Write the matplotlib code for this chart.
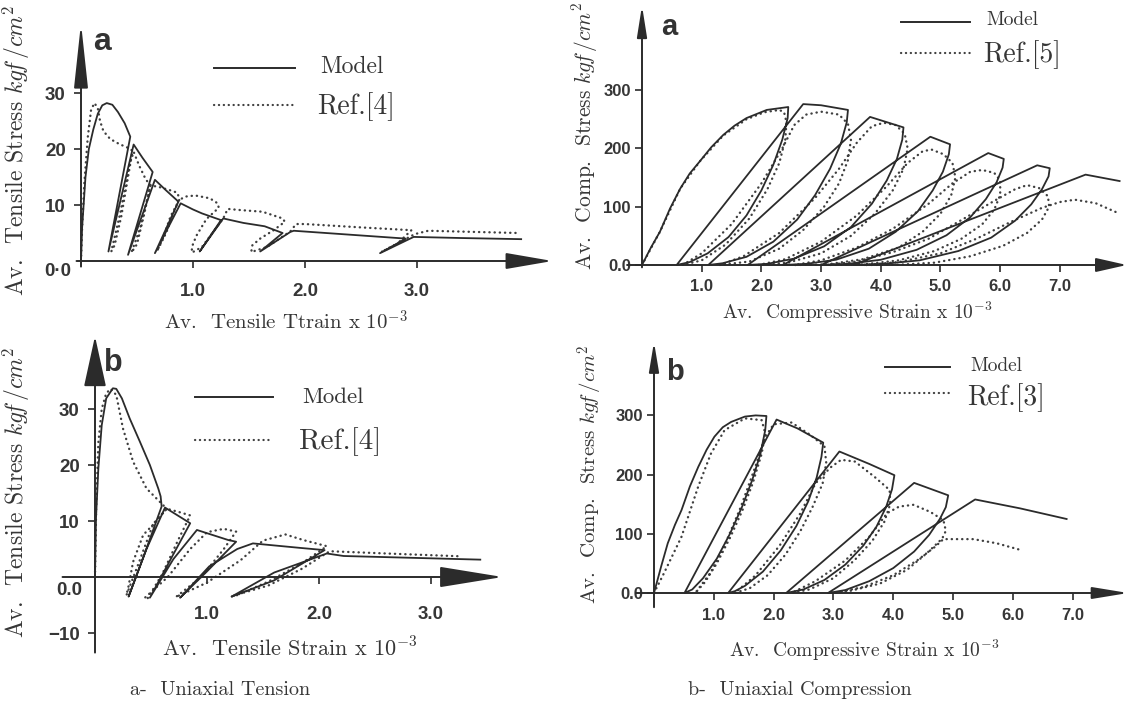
import numpy as np
import matplotlib
matplotlib.use("Agg")
import matplotlib.pyplot as plt
from matplotlib.lines import Line2D

# ---------------- data ----------------
# Uniaxial tension (a): strain x1e-3, stress kgf/cm2
ta_model_x = [0, 0.01, 0.04, 0.07, 0.11, 0.15, 0.19, 0.23, 0.28, 0.33, 0.39, 0.44, 0.245, 0.47, 0.55, 0.64,
              0.42, 0.66, 0.76, 0.87, 0.66, 0.89, 1.00, 1.08, 1.25, 1.06, 1.27, 1.45, 1.64, 1.80, 1.60, 1.87,
              1.90, 2.40, 2.90, 2.67, 2.97, 3.40, 3.93]
ta_model_y = [0, 6, 15, 20, 23.5, 26.3, 27.8, 28.2, 27.9, 26.6, 24.6, 22.2, 1.7, 20.8, 18.4, 15.9,
              1.1, 14.5, 12.6, 10.6, 1.4, 10.3, 9.2, 8.5, 7.3, 1.7, 7.6, 6.8, 6.2, 5.0, 1.7, 5.2,
              5.4, 4.7, 4.0, 1.4, 4.3, 4.1, 3.9]
ta_ref_x = [0, 0.01, 0.03, 0.06, 0.09, 0.12, 0.15, 0.17, 0.20, 0.26, 0.34, 0.41, 0.46,
            0.42, 0.36, 0.30, 0.27, 0.35, 0.43, 0.47,
            0.52, 0.58, 0.62, 0.56, 0.50, 0.45, 0.53, 0.62,
            0.70, 0.80, 0.86, 0.88, 0.80, 0.73, 0.68, 0.76, 0.87,
            0.93, 1.02, 1.15, 1.22, 1.23, 1.12, 1.03, 0.99, 0.99, 1.08, 1.27,
            1.31, 1.42, 1.62, 1.80, 1.82, 1.72, 1.60, 1.53, 1.52, 1.66, 1.87,
            1.92, 2.00, 2.50, 2.95, 2.82, 2.68, 2.98, 3.10, 3.50, 3.90]
ta_ref_y = [0, 6, 14, 22, 27, 28.2, 27.3, 25, 23.2, 21.8, 20.9, 20.3, 19.7,
            15, 8, 2.8, 1.7, 8.5, 17, 19.5,
            17, 14.5, 13.6, 8, 3, 1.5, 6, 13.5,
            13.2, 12.6, 12.2, 11, 8, 4, 1.8, 5, 10.8,
            11.5, 11.7, 11.2, 10.3, 9.5, 7.5, 4.5, 2.5, 1.5, 2.5, 7.6,
            9.3, 9.1, 8.8, 7.6, 7.0, 5.5, 4, 2.8, 1.6, 2.5, 5.3,
            6.6, 6.6, 6.0, 5.5, 3.0, 1.6, 4.8, 5.4, 5.2, 5.0]

# Uniaxial tension (b)
tb_model_x = [0, 0.009, 0.03, 0.06, 0.10, 0.16, 0.19, 0.24, 0.31, 0.40, 0.49, 0.565, 0.586, 0.595,
              0.44, 0.30, 0.46, 0.625, 0.85, 0.66, 0.49, 0.70, 0.91, 1.19, 1.26, 1.00, 0.76, 1.02, 1.27,
              1.41, 1.83, 2.05, 1.60, 1.22, 1.60, 2.07, 2.22, 3.44]
tb_model_y = [0, 10.5, 19.4, 27.1, 31.9, 33.7, 33.6, 31.9, 28.3, 24.2, 20, 15.8, 14.4, 12.6,
              4.0, -3.5, 5.0, 12.4, 9.6, 2.6, -3.7, 3.2, 8.4, 6.6, 6.3, 1.0, -3.7, 1.9, 5.0,
              6.0, 5.2, 4.8, -0.6, -3.5, 0.8, 4.2, 3.75, 3.1]
tb_ref_x = [0, 0.01, 0.03, 0.06, 0.10, 0.14, 0.19, 0.25, 0.34, 0.46, 0.58, 0.64,
            0.55, 0.43, 0.34, 0.30, 0.28, 0.40, 0.52, 0.64,
            0.75, 0.85, 0.74, 0.60, 0.47, 0.44, 0.65, 0.85, 1.00, 1.15, 1.26,
            1.15, 0.95, 0.72, 1.00, 1.30, 1.50, 1.70, 1.86, 2.07,
            1.85, 1.55, 1.25, 1.21, 1.55, 1.85, 2.07, 2.10, 2.60, 3.26]
tb_ref_y = [0, 12, 24, 30, 32.8, 33.6, 32.5, 26.5, 20.6, 15.8, 13.4, 12.2,
            10.0, 7.5, 2.7, -1.6, -3.3, 3.0, 9.5, 12.2,
            11.6, 11.0, 6.5, 0.5, -3.8, -3.8, 0.0, 5.0, 8.0, 8.6, 8.1,
            5.0, 0.0, -3.6, -1.0, 3.0, 6.5, 7.6, 6.6, 5.5,
            2.5, -0.8, -3.4, -3.5, -1.5, 1.5, 4.3, 4.6, 4.2, 3.7]

# Uniaxial compression (a)
ca_model_x = [0, 0.15, 0.30, 0.47, 0.64, 0.80, 0.97, 1.16, 1.36, 1.55, 1.75, 2.09, 2.45,
              2.44, 2.35, 2.2, 2.0, 1.75, 1.45, 1.1, 0.8, 0.58,
              2.70, 3.0, 3.45,
              3.43, 3.33, 3.15, 2.9, 2.6, 2.2, 1.75, 1.35, 1.11,
              3.82, 4.38,
              4.36, 4.27, 4.1, 3.85, 3.5, 3.05, 2.55, 2.1, 1.77,
              4.83, 5.16,
              5.14, 5.04, 4.87, 4.62, 4.25, 3.8, 3.25, 2.75, 2.36,
              5.8, 6.06,
              6.04, 5.94, 5.76, 5.5, 5.1, 4.6, 4.0, 3.45, 3.0,
              6.62, 6.83,
              6.81, 6.7, 6.52, 6.25, 5.85, 5.3, 4.65, 4.05, 3.54,
              7.43, 8.0]
ca_model_y = [0, 30, 57, 97, 131, 157, 178, 202, 223, 239, 252, 266, 271,
              252, 215, 172, 128, 85, 48, 20, 5, 0,
              276, 274, 266,
              245, 208, 165, 120, 78, 40, 14, 3, 0,
              254, 236,
              215, 182, 145, 105, 65, 32, 11, 2, 0,
              220, 207,
              190, 160, 128, 92, 57, 28, 9, 2, 0,
              192, 182,
              167, 142, 113, 82, 51, 26, 9, 2, 0,
              171, 166,
              152, 130, 104, 76, 47, 24, 8, 2, 0,
              155, 144]
ca_ref_x = [0, 0.3, 0.64, 0.97, 1.36, 1.75, 2.05, 2.3,
            2.38, 2.42, 2.4, 2.3, 2.1, 1.8, 1.4, 1.0, 0.68,
            1.0, 1.5, 2.0, 2.35, 2.55, 2.75, 3.0, 3.3,
            3.45, 3.5, 3.45, 3.3, 3.05, 2.7, 2.3, 1.8, 1.3,
            1.7, 2.3, 2.9, 3.3, 3.6, 3.85, 4.05, 4.25,
            4.4, 4.45, 4.38, 4.2, 3.9, 3.5, 3.0, 2.45, 1.95,
            2.4, 3.0, 3.6, 4.1, 4.45, 4.7, 4.85, 5.05,
            5.2, 5.25, 5.18, 5.0, 4.7, 4.3, 3.7, 3.1, 2.55,
            3.0, 3.6, 4.2, 4.8, 5.2, 5.5, 5.7, 5.9,
            6.0, 6.0, 5.9, 5.7, 5.35, 4.9, 4.3, 3.7, 3.1,
            3.6, 4.2, 4.8, 5.4, 5.9, 6.25, 6.45, 6.65,
            6.8, 6.82, 6.7, 6.45, 6.05, 5.5, 4.9, 4.3, 3.7,
            4.3, 5.0, 5.6, 6.2, 6.7, 7.0, 7.25, 7.6, 8.0]
ca_ref_y = [0, 57, 131, 178, 222, 250, 262, 266,
            262, 245, 215, 175, 130, 80, 35, 8, 0,
            20, 70, 140, 200, 240, 258, 263, 258,
            242, 215, 180, 140, 100, 60, 28, 6, 0,
            15, 55, 115, 165, 210, 238, 244, 240,
            225, 200, 165, 128, 88, 50, 20, 4, 0,
            10, 40, 85, 135, 175, 195, 198, 190,
            175, 150, 120, 88, 57, 30, 10, 1, 0,
            8, 30, 62, 105, 140, 160, 163, 158,
            145, 120, 95, 70, 45, 24, 8, 1, 0,
            6, 22, 45, 80, 110, 130, 137, 132,
            118, 100, 78, 55, 33, 15, 4, 0.5, 0,
            5, 20, 45, 75, 98, 108, 112, 106, 88]

# Uniaxial compression (b)
cb_model_x = [0, 0.12, 0.23, 0.35, 0.46, 0.6, 0.74, 0.88, 1.01, 1.15, 1.29, 1.52, 1.70, 1.88,
              1.86, 1.78, 1.64, 1.47, 1.27, 1.05, 0.82, 0.64, 0.51,
              2.05, 2.4, 2.83,
              2.80, 2.72, 2.58, 2.38, 2.12, 1.82, 1.52, 1.35, 1.24,
              3.1, 3.6, 4.02,
              3.98, 3.88, 3.72, 3.5, 3.2, 2.85, 2.5, 2.21,
              4.35, 4.92,
              4.88, 4.78, 4.6, 4.35, 4.0, 3.6, 3.2, 2.91,
              5.37, 6.12, 6.9]
cb_model_y = [0, 45, 84, 115, 140, 180, 213, 242, 264, 280, 289, 298, 300, 299,
              275, 235, 190, 145, 100, 58, 25, 6, 0,
              293, 278, 254,
              230, 195, 155, 113, 72, 36, 12, 3, 0,
              239, 218, 199,
              175, 145, 112, 80, 48, 22, 6, 0,
              186, 165,
              145, 125, 98, 70, 42, 20, 5, 0,
              158, 143, 125]
cb_ref_x = [0, 0.15, 0.46, 0.74, 0.95, 1.18, 1.52, 1.8,
            1.86, 1.8, 1.65, 1.48, 1.28, 1.05, 0.85, 0.69,
            0.95, 1.2, 1.45, 1.7, 1.85, 2.0, 2.3, 2.6, 2.85,
            2.88, 2.82, 2.65, 2.45, 2.2, 1.9, 1.6, 1.35,
            1.7, 2.1, 2.45, 2.7, 2.95, 3.13, 3.36, 3.69, 3.94,
            3.95, 3.85, 3.65, 3.35, 3.0, 2.6, 2.3,
            2.7, 3.2, 3.6, 3.9, 4.1, 4.34, 4.62, 4.84, 4.88,
            4.82, 4.56, 4.23, 3.78, 3.3, 3.0,
            3.5, 4.0, 4.4, 4.7, 4.84, 5.34, 5.73, 6.12]
cb_ref_y = [0, 30, 95, 180, 235, 275, 295, 292,
            270, 235, 185, 140, 95, 50, 18, 0,
            35, 85, 145, 215, 262, 285, 288, 268, 248,
            220, 185, 145, 105, 65, 30, 8, 0,
            30, 80, 135, 185, 212, 225, 222, 196, 174,
            150, 120, 88, 55, 25, 6, 0,
            20, 55, 95, 135, 146, 149, 137, 123, 105,
            92, 67, 39, 16, 4, 0,
            10, 30, 55, 78, 91, 91, 84, 73]

# ---------------- styling / layout ----------------
W, H = 1129, 720
INK = "#2b2b2b"
TXT = "#363636"
SERIF = "cmr10"
TICKF = ["Liberation Sans", "DejaVu Sans"]
BOLDSANS = ["Liberation Sans", "DejaVu Sans"]
plt.rcParams["mathtext.fontset"] = "cm"
plt.rcParams["axes.unicode_minus"] = False

fig = plt.figure(figsize=(W / 100, H / 100), dpi=100)
fig.patch.set_facecolor("white")


def px_axes(ox, oy, sx, sy, xlim, ylim):
    left = ox + xlim[0] * sx
    right = ox + xlim[1] * sx
    top = oy - ylim[1] * sy
    bottom = oy - ylim[0] * sy
    ax = fig.add_axes([left / W, 1 - bottom / H, (right - left) / W, (bottom - top) / H])
    ax.set_xlim(xlim)
    ax.set_ylim(ylim)
    ax.patch.set_alpha(0)
    return ax


def axis_style(ax, xticks, xlabels, yticks, ylabels, xa, ya, xhead, yhead, tfs, xpad, ypad):
    for s in ax.spines.values():
        s.set_visible(False)
    ax.spines["left"].set_position(("data", 0))
    ax.spines["bottom"].set_position(("data", 0))
    ax.set_xticks(xticks, xlabels, fontfamily=TICKF, fontsize=tfs, fontweight="bold", color=TXT)
    ax.set_yticks(yticks, ylabels, fontfamily=TICKF, fontsize=tfs, fontweight="bold", color=TXT)
    ax.tick_params(axis="x", direction="out", length=5, width=1.2, color=INK, pad=xpad)
    ax.tick_params(axis="y", direction="out", length=5, width=1.2, color=INK, pad=ypad)
    ax.annotate("", xy=(xa[1], 0), xytext=(xa[0], 0),
                arrowprops=dict(arrowstyle="-|>,head_length=%g,head_width=%g" % xhead,
                                lw=1.4, color=INK, shrinkA=0, shrinkB=0, mutation_scale=1))
    ax.annotate("", xy=(0, ya[1]), xytext=(0, ya[0]),
                arrowprops=dict(arrowstyle="-|>,head_length=%g,head_width=%g" % yhead,
                                lw=1.4, color=INK, shrinkA=0, shrinkB=0, mutation_scale=1))


def curves(ax, mx, my, rx, ry):
    ax.plot(rx, ry, color="#3f3f3f", lw=1.7, ls=(0, (0.1, 2.1)), dash_capstyle="round",
            solid_joinstyle="round", clip_on=False)
    ax.plot(mx, my, color=INK, lw=1.3, solid_joinstyle="round", clip_on=False)


def ftext(x, y, s, **kw):
    kw.setdefault("color", TXT)
    kw.setdefault("ha", "center")
    kw.setdefault("va", "center")
    fig.text(x / W, 1 - y / H, s, **kw)


def legend(x0, x1, ys, yd, xt, ymt, yrt, label_ref, fsm, fsr):
    fig.add_artist(Line2D([x0 / W, x1 / W], [1 - ys / H, 1 - ys / H], color=INK, lw=1.4,
                          transform=fig.transFigure))
    fig.add_artist(Line2D([x0 / W, x1 / W], [1 - yd / H, 1 - yd / H], color="#3f3f3f", lw=1.6,
                          ls=(0, (0.1, 2.1)), dash_capstyle="round", transform=fig.transFigure))
    ftext(xt, ymt, "Model", family=SERIF, fontsize=fsm, ha="left")
    ftext(xt - 3, yrt, label_ref, family=SERIF, fontsize=fsr, ha="left")


# ---- tension a ----
ax1 = px_axes(81, 261, 112, 5.6, (-0.3, 4.3), (-3, 44))
axis_style(ax1, [1, 2, 3], ["1.0", "2.0", "3.0"], [10, 20, 30], ["10", "20", "30"],
           (-0.04, 4.21), (-1, 42.5), (29, 5), (40, 4.3), 13.5, 11, 6)
curves(ax1, ta_model_x, ta_model_y, ta_ref_x, ta_ref_y)
ax1.text(-0.09, -1.8, "0·0", fontfamily=TICKF, fontsize=13.5, fontweight="bold", color=TXT,
         ha="right", va="center")
ftext(102, 42, "a", family=BOLDSANS, fontsize=23, fontweight="bold", color="#333333")
legend(214, 295, 68, 105, 320, 67, 107, "Ref.[4]", 17, 20)
ftext(16, 150, r"Av.  Tensile Stress $kg\!f\,/cm^2$", family=SERIF, fontsize=17, rotation=90)
ftext(286, 322, r"Av.  Tensile Ttrain x $10^{-3}$", family=SERIF, fontsize=15)

# ---- tension b ----
ax2 = px_axes(95, 577, 112, 5.6, (-0.4, 3.75), (-15, 45))
axis_style(ax2, [1, 2, 3], ["1.0", "2.0", "3.0"], [-10, 10, 20, 30], ["\u221210", "10", "20", "30"],
           (-0.29, 3.64), (-13.5, 43), (40, 6.5), (32, 7), 13.5, 16, 6)
curves(ax2, tb_model_x, tb_model_y, tb_ref_x, tb_ref_y)
ax2.text(-0.11, -2.4, "0.0", fontfamily=TICKF, fontsize=13.5, fontweight="bold", color=TXT,
         ha="right", va="center")
ftext(113, 363, "b", family=BOLDSANS, fontsize=22, fontweight="bold", color="#333333")
legend(195, 273, 397, 440, 302, 397, 442, "Ref.[4]", 16.5, 21)
ftext(16, 492, r"Av.  Tensile Stress $kg\!f\,/cm^2$", family=SERIF, fontsize=17, rotation=90)
ftext(290, 648, r"Av.  Tensile Strain x $10^{-3}$", family=SERIF, fontsize=16)

# ---- compression a ----
ax3 = px_axes(642, 265, 59.7, 0.583, (-0.5, 8.2), (-25, 460))
axis_style(ax3, [1, 2, 3, 4, 5, 6, 7], ["1.0", "2.0", "3.0", "4.0", "5.0", "6.0", "7.0"],
           [0, 100, 200, 300], ["0.0", "100", "200", "300"],
           (-0.25, 8.12), (-4, 445), (19, 4.3), (19, 3), 12, 5, 3)
curves(ax3, ca_model_x, ca_model_y, ca_ref_x, ca_ref_y)
ftext(669, 27, "a", family=BOLDSANS, fontsize=21, fontweight="bold", color="#333333")
legend(901, 970, 22, 53, 986, 20, 55, "Ref.[5]", 14, 20)
ftext(585, 136, r"Av.  Comp.  Stress $kg\!f\,/cm^2$", family=SERIF, fontsize=15.5, rotation=90)
ftext(857, 312, r"Av.  Compressive Strain x $10^{-3}$", family=SERIF, fontsize=14)

# ---- compression b ----
ax4 = px_axes(654, 593, 59.8, 0.592, (-0.5, 8.0), (-30, 440))
axis_style(ax4, [1, 2, 3, 4, 5, 6, 7], ["1.0", "2.0", "3.0", "4.0", "5.0", "6.0", "7.0"],
           [0, 100, 200, 300], ["0.0", "100", "200", "300"],
           (-0.3, 7.93), (-24, 424), (22, 3.6), (18, 3), 12, 6, 3)
curves(ax4, cb_model_x, cb_model_y, cb_ref_x, cb_ref_y)
ftext(675, 372, "b", family=BOLDSANS, fontsize=21, fontweight="bold", color="#333333")
legend(885, 950, 367, 393, 970, 366, 398, "Ref.[3]", 14, 20)
ftext(590, 474, r"Av.  Comp.  Stress $kg\!f\,/cm^2$", family=SERIF, fontsize=15, rotation=90)
ftext(864, 650, r"Av.  Compressive Strain x $10^{-3}$", family=SERIF, fontsize=14)

# ---- captions ----
ftext(220, 690, "a-  Uniaxial Tension", family=SERIF, fontsize=14.5)
ftext(800, 690, "b-  Uniaxial Compression", family=SERIF, fontsize=14.5)

fig.savefig("out.png", dpi=100, facecolor="white")
